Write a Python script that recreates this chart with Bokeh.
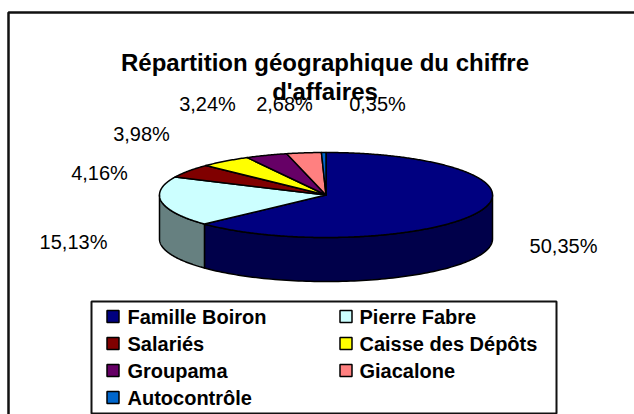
import numpy as np
from bokeh.plotting import figure
from bokeh.models import Range1d, ColumnDataSource
from bokeh.embed import file_html
from bokeh.resources import INLINE
from bokeh.core.properties import value

# ---- data ----
names = ["Famille Boiron", "Pierre Fabre", "Salariés", "Caisse des Dépôts",
         "Groupama", "Giacalone", "Autocontrôle"]
shares = [50.35, 15.13, 4.16, 3.98, 3.24, 2.68, 0.35]
labels = ["50,35%", "15,13%", "4,16%", "3,98%", "3,24%", "2,68%", "0,35%"]
top_colors = ["#000080", "#CCFFFF", "#800000", "#FFFF00", "#660066", "#FF8080", "#0066CC"]
side_colors = ["#00004A", "#668080", "#400000", "#808000", "#330033", "#804040", "#003366"]
title_lines = ["Répartition géographique du chiffre", "d'affaires"]

# ---- layout ----
W, H = 634, 414
CX, CY, RX, RY, DEPTH = 325.5, 194.5, 166.5, 42.5, 44
LABEL_POS = [(563, 245), (73, 241), (99, 172), (141, 133), (207, 103), (284, 103), (377, 103)]
FONT = "Liberation Sans"

p = figure(width=W, height=H, x_range=Range1d(0, W), y_range=Range1d(H, 0),
           output_backend="svg", toolbar_location=None, min_border=0)
p.axis.visible = False
p.grid.visible = False
p.outline_line_color = None
p.background_fill_color = "white"
p.border_fill_color = "white"

# outer chart frame (top and left visible)
p.line(x=[8, 8, W + 5], y=[H + 5, 12, 12], line_color="#111111", line_width=2.5)

vals = np.array(shares, dtype=float)
frac = vals / vals.sum() * 360.0
ends = np.cumsum(frac)
starts = ends - frac


def ell(th, dy=0.0):
    t = np.radians(th)
    return CX + RX * np.sin(t), CY - RY * np.cos(t) + dy


# side walls (front half only)
sx, sy, sc = [], [], []
for s, e, c in zip(starts, ends, side_colors):
    a, b = max(s, 90.0), min(e, 270.0)
    if b <= a:
        continue
    th = np.linspace(a, b, 100)
    x, y = ell(th)
    sx.append(list(np.concatenate([x, x[::-1]])))
    sy.append(list(np.concatenate([y, (y + DEPTH)[::-1]])))
    sc.append(c)
p.patches(xs=sx, ys=sy, fill_color=sc, line_color="black", line_width=1.5, line_join="round")

# top faces
tx, ty = [], []
for s, e in zip(starts, ends):
    th = np.linspace(s, e, max(int(e - s) * 2, 8))
    x, y = ell(th)
    tx.append([CX] + list(x))
    ty.append([CY] + list(y))
p.patches(xs=tx, ys=ty, fill_color=top_colors, line_color="black", line_width=1.5, line_join="round")

# data labels
lsrc = ColumnDataSource(dict(x=[q[0] for q in LABEL_POS], y=[q[1] for q in LABEL_POS], t=labels))
p.text(x="x", y="y", text="t", source=lsrc, text_font=value(FONT), text_font_size="20px",
       text_align="center", text_baseline="middle", text_color="black")

# title
p.text(x=[324.5, 324.5], y=[62, 91], text=title_lines, text_font=value(FONT), text_font_size="24px",
       text_font_style="bold", text_align="center", text_baseline="middle", text_color="black")

# legend box
p.quad(left=[91], right=[556], top=[301], bottom=[413], fill_color="white",
       line_color="#111111", line_width=2)
gx, gy, tx2 = [], [], []
for i in range(len(names)):
    col, row = i % 2, i // 2
    gx.append(112.5 + col * 233)
    gy.append(316 + row * 27)
    tx2.append(127 + col * 232)
p.rect(x=gx, y=gy, width=12, height=12, fill_color=top_colors, line_color="black", line_width=1.5)
p.text(x=tx2, y=gy, text=names, text_font=value(FONT), text_font_size="20px",
       text_font_style="bold", text_align="left", text_baseline="middle", text_color="black")

open("out.html", "w").write(file_html(p, INLINE))
